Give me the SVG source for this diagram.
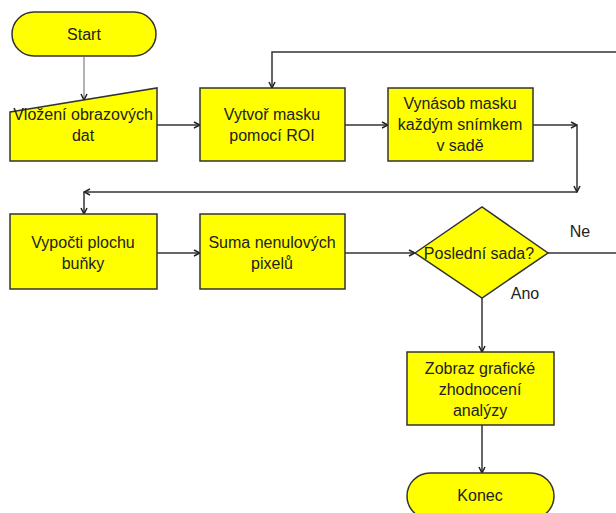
<svg xmlns="http://www.w3.org/2000/svg" width="616" height="513" viewBox="0 0 616 513">
<defs>
<style>
.n{fill:#ffff00;stroke:#333;stroke-width:1.5}
.t{font-family:"Liberation Sans",Arial,sans-serif;font-size:16px;fill:#222;text-anchor:middle}
.c{fill:none;stroke:#333;stroke-width:1.5}
</style>
<marker id="a" markerWidth="8" markerHeight="8" refX="7" refY="4" orient="auto" markerUnits="userSpaceOnUse">
<path d="M1,1 L7,4 L1,7" fill="none" stroke="#222" stroke-width="1.5"/>
</marker>
</defs>
<rect width="616" height="513" fill="#fff"/>
<g id="connectors">
<path d="M84,57 V100" class="c" style="stroke:#999" marker-end="url(#a)"/>
<path d="M157,125 H200" class="c" marker-end="url(#a)"/>
<path d="M345,125 H388" class="c" marker-end="url(#a)"/>
<path d="M533,125 H577" class="c" marker-end="url(#a)"/>
<path d="M577,125 V192" class="c" marker-end="url(#a)"/>
<path d="M577,192 H84" class="c" marker-end="url(#a)"/>
<path d="M84,192 V214" class="c" marker-end="url(#a)"/>
<path d="M157,253 H200" class="c" marker-end="url(#a)"/>
<path d="M345,253 H415" class="c" marker-end="url(#a)"/>
<path d="M548,253 H616" class="c"/>
<path d="M616,52 H272 V88" class="c" marker-end="url(#a)"/>
<path d="M482,298 V352" class="c" marker-end="url(#a)"/>
<path d="M482,425 V473" class="c" marker-end="url(#a)"/>
<text class="t" x="580" y="237">Ne</text>
<text class="t" x="525" y="299">Ano</text>
</g>
<g id="start">
<rect class="n" x="12" y="12" width="144" height="44" rx="22"/>
<text class="t" x="84" y="40">Start</text>
</g>
<g id="input">
<path class="n" d="M10,112 L157,88 V161 H10 Z"/>
<text class="t" x="83" y="120">Vložení obrazových</text>
<text class="t" x="83" y="141">dat</text>
</g>
<g id="maska">
<rect class="n" x="200" y="88" width="145" height="73"/>
<text class="t" x="272" y="120">Vytvoř masku</text>
<text class="t" x="272" y="141">pomocí ROI</text>
</g>
<g id="vynasob">
<rect class="n" x="388" y="88" width="145" height="73"/>
<text class="t" x="460" y="109">Vynásob masku</text>
<text class="t" x="460" y="130">každým snímkem</text>
<text class="t" x="460" y="151">v sadě</text>
</g>
<g id="plocha">
<rect class="n" x="10" y="214" width="147" height="75"/>
<text class="t" x="83" y="248">Vypočti plochu</text>
<text class="t" x="83" y="269">buňky</text>
</g>
<g id="suma">
<rect class="n" x="200" y="214" width="145" height="75"/>
<text class="t" x="272" y="248">Suma nenulových</text>
<text class="t" x="272" y="269">pixelů</text>
</g>
<g id="decision">
<path class="n" d="M415,253 L482,207 L548,253 L482,298 Z"/>
<text class="t" x="479" y="259">Poslední sada?</text>
</g>
<g id="zobraz">
<rect class="n" x="407" y="352" width="147" height="73"/>
<text class="t" x="480" y="374">Zobraz grafické</text>
<text class="t" x="480" y="395">zhodnocení</text>
<text class="t" x="480" y="416">analýzy</text>
</g>
<g id="konec">
<rect class="n" x="407" y="473" width="147" height="46" rx="23"/>
<text class="t" x="480" y="501">Konec</text>
</g>
</svg>
